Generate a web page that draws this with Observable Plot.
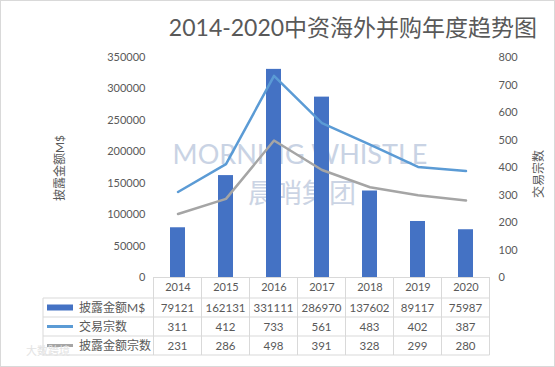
<!DOCTYPE html>
<html>
<head>
<meta charset="utf-8">
<script src="https://cdn.jsdelivr.net/npm/d3@7"></script>
<script src="https://cdn.jsdelivr.net/npm/@observablehq/plot@0.6"></script>
<style>
  html, body { margin: 0; padding: 0; background: #fff; }
  #chart svg { display: block; }
</style>
</head>
<body>
<div id="chart"></div>
<script>
const title = "2014-2020中资海外并购年度趋势图";
const years = ["2014", "2015", "2016", "2017", "2018", "2019", "2020"];
const amounts = [79121, 162131, 331111, 286970, 137602, 89117, 75987];
const deals = [311, 412, 733, 561, 483, 402, 387];
const disclosedDeals = [231, 286, 498, 391, 328, 299, 280];
const seriesNames = ["披露金额M$", "交易宗数", "披露金额宗数"];
const seriesColors = ["#4472C4", "#5B9BD5", "#A5A5A5"];
const leftTicks = [0, 50000, 100000, 150000, 200000, 250000, 300000, 350000];
const rightTicks = [0, 100, 200, 300, 400, 500, 600, 700, 800];
const leftTitle = "披露金额M$";
const rightTitle = "交易宗数";

const leftMax = 350000, rightMax = 800;
const ratio = leftMax / rightMax;
const rows = years.map((year, i) => ({year, amount: amounts[i], deals: deals[i], disclosed: disclosedDeals[i]}));

const font = "Lato, 'Noto Sans CJK SC', sans-serif";
const textColor = "#595959";
const gridColor = "#D9D9D9";

const plot = Plot.plot({
  width: 555,
  height: 367,
  marginLeft: 153,
  marginRight: 65,
  marginTop: 57,
  marginBottom: 90,
  style: {fontFamily: font, fontSize: "11px", color: textColor, background: "#fff"},
  x: {domain: years, paddingInner: 0.69, paddingOuter: 0.345, label: null},
  y: {domain: [0, leftMax], label: null},
  marks: [
    Plot.text(["MORNING WHISTLE"], {frameAnchor: "middle", dx: -22, dy: -12, fontSize: 27, fill: "#C9D3E4", fontFamily: "Lato, sans-serif"}),
    Plot.text(["晨哨集团"], {frameAnchor: "middle", dx: -20, dy: 27, fontSize: 27, fill: "#CBD4E4", fontFamily: "'Noto Sans CJK SC', sans-serif", letterSpacing: 9}),
    Plot.barY(rows, {x: "year", y: "amount", fill: seriesColors[0]}),
    Plot.ruleY([0], {stroke: gridColor}),
    Plot.line(rows, {x: "year", y: d => d.deals * ratio, stroke: seriesColors[1], strokeWidth: 2.5}),
    Plot.line(rows, {x: "year", y: d => d.disclosed * ratio, stroke: seriesColors[2], strokeWidth: 2.5}),
    Plot.axisY({anchor: "left", ticks: leftTicks, tickSize: 0, tickPadding: 8, tickFormat: d => String(d), label: null, fill: textColor}),
    Plot.axisY({anchor: "right", ticks: rightTicks.map(v => v * ratio), tickSize: 0, tickPadding: 8, tickFormat: d => String(Math.round(d / ratio)), label: null, fill: textColor}),
    Plot.axisX({tickSize: 0, tickPadding: 6, label: null, fill: textColor})
  ]
});

document.getElementById("chart").appendChild(plot);

// Decorations & data table drawn from the same scales
const svg = d3.select(plot);
const xs = plot.scale("x");
const ys = plot.scale("y");
const step = xs.step;
const left0 = xs.apply(years[0]) + xs.bandwidth / 2 - step / 2;
const right0 = xs.apply(years[years.length - 1]) + xs.bandwidth / 2 + step / 2;
const y0 = ys.apply(0);
const yTop = ys.apply(leftMax);

// outer border
svg.append("rect").attr("x", 0.5).attr("y", 0.5).attr("width", 554).attr("height", 366)
  .attr("fill", "none").attr("stroke", gridColor);

// title
svg.append("text").attr("x", 353).attr("y", 36)
  .attr("text-anchor", "middle").attr("font-size", 23).attr("fill", textColor)
  .attr("font-family", font).text(title);

// axis titles
svg.append("text").attr("transform", `translate(64,${(y0 + yTop) / 2 + 1}) rotate(-90)`)
  .attr("text-anchor", "middle").attr("font-size", 12).attr("fill", textColor)
  .attr("font-family", font).text(leftTitle);
svg.append("text").attr("transform", `translate(543,${(y0 + yTop) / 2 + 7}) rotate(-90)`)
  .attr("text-anchor", "middle").attr("font-size", 12).attr("fill", textColor)
  .attr("font-family", font).text(rightTitle);

// data table
const rowH = 19;
const tableTop = y0 + 21;
const labelLeft = 43;
const g = svg.append("g").attr("font-family", font).attr("font-size", 11.5).attr("fill", textColor);
const borders = d3.range(years.length + 1).map(i => left0 + i * step);
borders.forEach(bx => g.append("line").attr("x1", bx).attr("x2", bx).attr("y1", y0).attr("y2", tableTop + 3 * rowH).attr("stroke", gridColor));
g.append("line").attr("x1", labelLeft).attr("x2", labelLeft).attr("y1", tableTop).attr("y2", tableTop + 3 * rowH).attr("stroke", gridColor);
d3.range(4).forEach(r => g.append("line").attr("x1", labelLeft).attr("x2", right0).attr("y1", tableTop + r * rowH).attr("y2", tableTop + r * rowH).attr("stroke", gridColor));

const seriesValues = [amounts, deals, disclosedDeals];
seriesValues.forEach((vals, r) => {
  const cy = tableTop + r * rowH + rowH / 2;
  if (r === 0) {
    g.append("rect").attr("x", 47).attr("y", cy - 3).attr("width", 26).attr("height", 6).attr("fill", seriesColors[r]);
  } else {
    g.append("line").attr("x1", 47).attr("x2", 73).attr("y1", cy).attr("y2", cy).attr("stroke", seriesColors[r]).attr("stroke-width", 3);
  }
  g.append("text").attr("x", 79).attr("y", cy).attr("dy", "0.35em").attr("text-anchor", "start").attr("font-size", 12).text(seriesNames[r]);
  vals.forEach((v, i) => {
    g.append("text").attr("x", xs.apply(years[i]) + xs.bandwidth / 2).attr("y", cy).attr("dy", "0.35em")
      .attr("text-anchor", "middle").text(String(v));
  });
});

// bottom-left watermark
svg.append("text").attr("x", 26).attr("y", 355).attr("text-anchor", "start").attr("font-size", 11).attr("fill", "#E3E3E3")
  .attr("font-family", font).text("大数跨境");
</script>
</body>
</html>
